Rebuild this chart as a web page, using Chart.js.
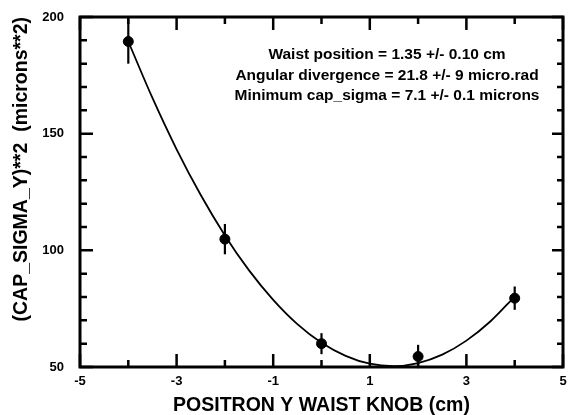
<!DOCTYPE html>
<html>
<head>
<meta charset="utf-8">
<script src="https://cdn.jsdelivr.net/npm/chart.js@4"></script>
<style>
  html, body { margin: 0; padding: 0; background: #fff; }
  #wrap { width: 569px; height: 415px; position: relative; }
</style>
</head>
<body>
<div id="wrap"><canvas id="chart"></canvas></div>
<script>
// measured points
const knobPos = [-4, -2, 0, 2, 4];
const sigmaSq = [189.5, 104.8, 60, 54.5, 79.5];
const sigmaErr = [9.5, 6.5, 4.5, 5, 5];

// fitted curve
const fitX = [-4, -3.5, -3, -2.5, -2, -1.5, -1, -0.5, 0, 0.5, 1, 1.5, 2, 2.5, 3, 3.5, 4];
const fitY = [189.5, 165.3, 143.3, 123.7, 106.4, 91.4, 78.8, 68.4, 60.4, 54.8, 51.4, 50.4, 51.7, 55.3, 61.3, 69.6, 80.2];

// axis ticks
const xMajor = [-5, -3, -1, 1, 3, 5];
const xMinor = [-4, -2, 0, 2, 4];
const yMajor = [50, 100, 150, 200];
const yMinor = [60, 70, 80, 90, 110, 120, 130, 140, 160, 170, 180, 190];

const fitLines = [
  'Waist position = 1.35 +/- 0.10 cm',
  'Angular divergence = 21.8 +/- 9 micro.rad',
  'Minimum cap_sigma = 7.1 +/- 0.1 microns'
];

const FONT = '"Liberation Sans", Arial, sans-serif';

// box, inward ticks, error bars and the fit text
const framePlugin = {
  id: 'frame',
  afterDatasetsDraw(chart) {
    const ctx = chart.ctx;
    const a = chart.chartArea;
    const xs = chart.scales.x, ys = chart.scales.y;
    ctx.save();
    ctx.strokeStyle = '#000';

    // error bars
    ctx.lineWidth = 2.2;
    knobPos.forEach((x, i) => {
      const px = xs.getPixelForValue(x);
      ctx.beginPath();
      ctx.moveTo(px, ys.getPixelForValue(sigmaSq[i] + sigmaErr[i]));
      ctx.lineTo(px, ys.getPixelForValue(sigmaSq[i] - sigmaErr[i]));
      ctx.stroke();
    });

    // ticks
    ctx.lineWidth = 2.5;
    const tickX = (v, len) => {
      const px = xs.getPixelForValue(v);
      ctx.beginPath();
      ctx.moveTo(px, a.bottom); ctx.lineTo(px, a.bottom - len);
      ctx.moveTo(px, a.top); ctx.lineTo(px, a.top + len);
      ctx.stroke();
    };
    const tickY = (v, len, rlen) => {
      const py = ys.getPixelForValue(v);
      ctx.beginPath();
      ctx.moveTo(a.left, py); ctx.lineTo(a.left + len, py);
      ctx.moveTo(a.right, py); ctx.lineTo(a.right - rlen, py);
      ctx.stroke();
    };
    xMajor.forEach(v => tickX(v, 13));
    xMinor.forEach(v => tickX(v, 7));
    yMajor.forEach(v => tickY(v, 13, 11));
    yMinor.forEach(v => tickY(v, 7, 6));

    // frame
    ctx.lineWidth = 3;
    ctx.strokeRect(a.left, a.top, a.right - a.left, a.bottom - a.top);

    // fit results
    ctx.fillStyle = '#000';
    ctx.font = 'bold 15.5px ' + FONT;
    ctx.textAlign = 'center';
    ctx.textBaseline = 'middle';
    fitLines.forEach((t, i) => ctx.fillText(t, 387, 55 + i * 20.5));
    ctx.restore();
  }
};

new Chart(document.getElementById('chart'), {
  type: 'scatter',
  data: {
    datasets: [
      {
        label: 'fit',
        data: fitX.map((x, i) => ({ x: x, y: fitY[i] })),
        showLine: true,
        borderColor: '#000',
        borderWidth: 1.8,
        pointRadius: 0,
        tension: 0.4,
        cubicInterpolationMode: 'monotone'
      },
      {
        label: 'data',
        data: knobPos.map((x, i) => ({ x: x, y: sigmaSq[i] })),
        backgroundColor: '#000',
        borderColor: '#000',
        pointRadius: 5,
        showLine: false
      }
    ]
  },
  options: {
    responsive: true,
    maintainAspectRatio: false,
    animation: false,
    layout: { padding: { top: 17, right: 5, left: 0, bottom: 0 } },
    plugins: { legend: { display: false }, tooltip: { enabled: false } },
    scales: {
      x: {
        type: 'linear',
        min: -5, max: 5,
        afterBuildTicks: s => { s.ticks = xMajor.map(v => ({ value: v })); },
        afterFit: s => { s.height = 48; s.paddingLeft = 0; s.paddingRight = 0; },
        grid: { display: false, drawTicks: false },
        border: { display: false },
        ticks: {
          padding: 7,
          color: '#000',
          font: { family: FONT, size: 13, weight: 'bold' },
          maxRotation: 0
        },
        title: {
          display: true,
          text: 'POSITRON Y WAIST KNOB (cm)',
          color: '#000',
          font: { family: FONT, size: 19.5, weight: 'bold', lineHeight: 1 },
          padding: { top: 1, bottom: 0 }
        }
      },
      y: {
        type: 'linear',
        min: 50, max: 200,
        afterBuildTicks: s => { s.ticks = yMajor.map(v => ({ value: v })); },
        afterFit: s => { s.width = 80; s.paddingTop = 0; s.paddingBottom = 0; },
        grid: { display: false, drawTicks: false },
        border: { display: false },
        ticks: {
          padding: 16,
          color: '#000',
          font: { family: FONT, size: 13, weight: 'bold' }
        },
        title: {
          display: true,
          align: 'end',
          text: '(CAP_SIGMA_Y)**2  (microns**2)',
          color: '#000',
          font: { family: FONT, size: 19.5, weight: 'bold', lineHeight: 1 },
          padding: { top: 12, bottom: 0 }
        }
      }
    }
  },
  plugins: [framePlugin]
});
</script>
</body>
</html>
